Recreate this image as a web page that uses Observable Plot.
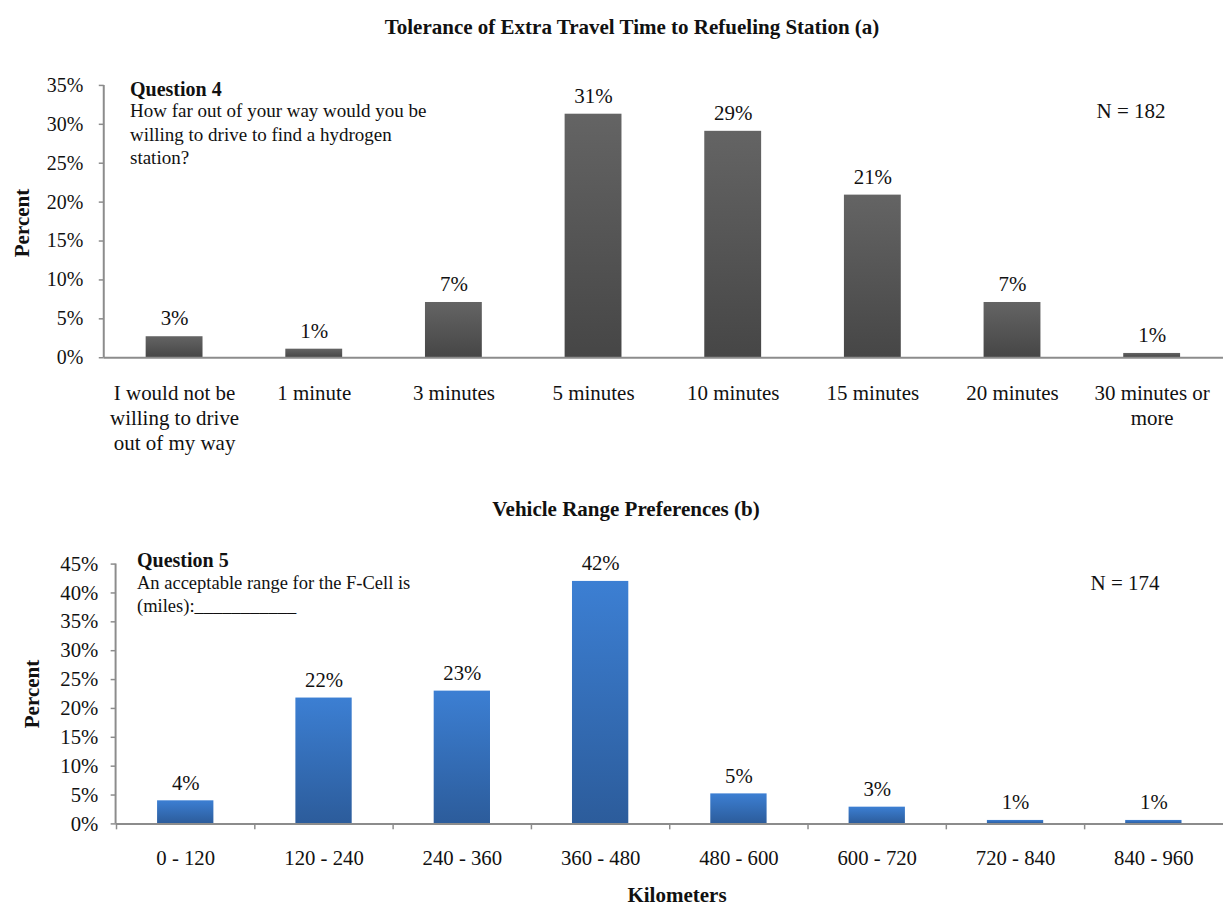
<!DOCTYPE html>
<html>
<head>
<meta charset="utf-8">
<script src="https://cdn.jsdelivr.net/npm/d3@7"></script>
<script src="https://cdn.jsdelivr.net/npm/@observablehq/plot@0.6"></script>
<style>
  html, body { margin: 0; padding: 0; background: #fff; overflow: hidden; }
  #page { position: relative; width: 1223px; height: 905px; overflow: hidden; background: #fff;
          font-family: "Liberation Serif", "Times New Roman", serif; color: #111; }
  .t { position: absolute; white-space: nowrap; line-height: 1; }
  .c { transform: translate(-50%, -50%); }
  .l { transform: translate(0, -50%); }
  .b { font-weight: bold; }
  .rot { transform: translate(-50%, -50%) rotate(-90deg); }
  svg { position: absolute; left: 0; }
</style>
</head>
<body>
<div id="page">
  <div class="t c b" style="left:632px; top:27px; font-size:21px;">Tolerance of Extra Travel Time to Refueling Station (a)</div>
  <div class="t rot b" style="left:22px; top:223px; font-size:21px;">Percent</div>
  <div class="t l b" style="left:130px; top:89px; font-size:20px;">Question 4</div>
  <div class="t l" style="left:130px; top:110px; font-size:19px;">How far out of your way would you be</div>
  <div class="t l" style="left:130px; top:134px; font-size:19px;">willing to drive to find a hydrogen</div>
  <div class="t l" style="left:130px; top:157px; font-size:19px;">station?</div>
  <div class="t c" style="left:1131px; top:111px; font-size:21px;">N = 182</div>

  <div class="t c b" style="left:626px; top:509px; font-size:21px;">Vehicle Range Preferences (b)</div>
  <div class="t rot b" style="left:32px; top:694px; font-size:21px;">Percent</div>
  <div class="t l b" style="left:137px; top:560px; font-size:20px;">Question 5</div>
  <div class="t l" style="left:137px; top:583px; font-size:18.5px;">An acceptable range for the F-Cell is</div>
  <div class="t l" style="left:137px; top:606px; font-size:18.5px;">(miles):___________</div>
  <div class="t c" style="left:1125px; top:583px; font-size:21px;">N = 174</div>
  <div class="t c b" style="left:677px; top:895px; font-size:21px;">Kilometers</div>
</div>
<script>
// ---- data ----
const timeCategories = [
  "I would not be\nwilling to drive\nout of my way",
  "1 minute", "3 minutes", "5 minutes", "10 minutes", "15 minutes", "20 minutes",
  "30 minutes or\nmore"
];
const timePercents = [2.7, 1.1, 7.1, 31.3, 29.1, 20.9, 7.1, 0.55];
const timeYTicks = [0, 5, 10, 15, 20, 25, 30, 35];

const rangeCategories = ["0 - 120", "120 - 240", "240 - 360", "360 - 480", "480 - 600", "600 - 720", "720 - 840", "840 - 960"];
const rangePercents = [4.0, 21.8, 23.0, 42.0, 5.2, 2.9, 0.6, 0.6];
const rangeYTicks = [0, 5, 10, 15, 20, 25, 30, 35, 40, 45];

const timeRows = timeCategories.map((c, i) => ({c, v: timePercents[i]}));
const rangeRows = rangeCategories.map((c, i) => ({c, v: rangePercents[i]}));

// ---- helpers ----
function gradientDefs(id, top, bottom) {
  return () => {
    const defs = d3.create("svg:defs");
    const g = defs.append("linearGradient").attr("id", id)
      .attr("x1", 0).attr("y1", 0).attr("x2", 0).attr("y2", 1);
    g.append("stop").attr("offset", "0%").attr("stop-color", top);
    g.append("stop").attr("offset", "100%").attr("stop-color", bottom);
    return defs.node();
  };
}
function yAxisLine(maxTick) {
  return (index, scales, values, dims) => {
    return d3.create("svg:line")
      .attr("x1", dims.marginLeft).attr("x2", dims.marginLeft)
      .attr("y1", scales.y(maxTick)).attr("y2", scales.y(0))
      .attr("stroke", "#8c8c8c").attr("stroke-width", 2).node();
  };
}
const axisColor = "#8c8c8c";
const font = "Liberation Serif";

// ---- chart (a) ----
const W1 = 1226, ML1 = 104, MR1 = 0;
const chartA = Plot.plot({
  width: W1, height: 410,
  marginLeft: ML1, marginRight: MR1, marginTop: 35, marginBottom: 102,
  style: {fontFamily: font, fontSize: "21px", color: "#111", background: "transparent", overflow: "visible"},
  x: {domain: timeCategories, paddingInner: 0.59, paddingOuter: 0.295, label: null},
  y: {domain: [0, 35], label: null},
  marks: [
    gradientDefs("gradGray", "#646464", "#464646"),
    Plot.barY(timeRows, {x: "c", y: "v", fill: "url(#gradGray)"}),
    Plot.text(timeRows, {x: "c", y: "v", text: d => Math.round(d.v) + "%", dy: -18, fontSize: 21, fill: "#111"}),
    Plot.ruleY([0], {stroke: axisColor, strokeWidth: 2}),
    yAxisLine(35),
    Plot.axisY({ticks: timeYTicks, tickFormat: d => d + "%", tickSize: 5, tickPadding: 16,
                stroke: axisColor, strokeWidth: 1.5, fontSize: 20, label: null}),
    Plot.axisX({tickSize: 0, tickPadding: 25, fontSize: 21, lineHeight: 1.19, label: null})
  ]
});
chartA.style.top = "50px";
document.getElementById("page").appendChild(chartA);

// ---- chart (b) ----
const W2 = 1238, ML2 = 117, MR2 = 0;
const step2 = (W2 - ML2 - MR2) / rangeCategories.length;
const chartB = Plot.plot({
  width: W2, height: 375,
  marginLeft: ML2, marginRight: MR2, marginTop: 33, marginBottom: 79,
  style: {fontFamily: font, fontSize: "21px", color: "#111", background: "transparent", overflow: "visible"},
  x: {domain: rangeCategories, paddingInner: 0.59, paddingOuter: 0.295, label: null},
  y: {domain: [0, 45], label: null},
  marks: [
    gradientDefs("gradBlue", "#3c7fd3", "#2c5c9b"),
    Plot.barY(rangeRows, {x: "c", y: "v", fill: "url(#gradBlue)"}),
    Plot.text(rangeRows, {x: "c", y: "v", text: d => Math.round(d.v) + "%", dy: -18, fontSize: 21, fill: "#111"}),
    Plot.ruleY([0], {stroke: axisColor, strokeWidth: 2}),
    yAxisLine(45),
    Plot.axisY({ticks: rangeYTicks, tickFormat: d => d + "%", tickSize: 5, tickPadding: 13,
                stroke: axisColor, strokeWidth: 1.5, fontSize: 21, label: null}),
    Plot.axisX({tickSize: 6, fill: "none", dx: -step2 / 2, stroke: axisColor, strokeWidth: 1.5, label: null}),
    Plot.axisX({tickSize: 0, tickPadding: 27, fontSize: 21, label: null})
  ]
});
chartB.style.top = "531px";
document.getElementById("page").appendChild(chartB);
</script>
</body>
</html>
